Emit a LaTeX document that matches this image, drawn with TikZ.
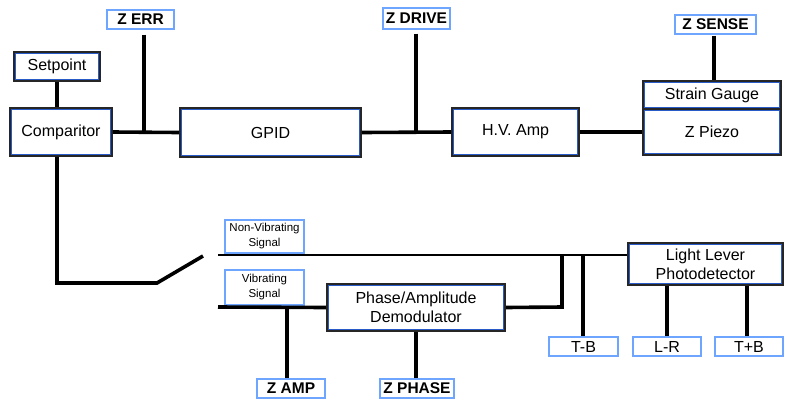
\documentclass[tikz,border=0pt]{standalone}
\usepackage{fontspec}
\setmainfont{Liberation Sans}
\definecolor{blkblue}{RGB}{40,90,200}
\definecolor{lblblue}{RGB}{110,165,255}
\tikzset{
  blk/.style={draw=black!85, line width=1.8pt, fill=white, inner sep=0pt, align=center,
    font=\fontsize{16}{19}\selectfont,
    path picture={\draw[blkblue, line width=4.4pt] (path picture bounding box.south west) rectangle (path picture bounding box.north east);}},
  lbl/.style={draw=lblblue, line width=1.3pt, fill=white, inner sep=0pt, align=center,
    minimum height=19pt, font=\fontsize{15.5}{18}\selectfont\bfseries},
  lbr/.style={lbl, font=\fontsize{16}{18}\selectfont},
  sig/.style={draw=lblblue, line width=1.3pt, fill=white, inner sep=0pt, align=center,
    font=\fontsize{11.5}{15}\selectfont},
  wire/.style={line width=3.6pt, black},
  thinwire/.style={line width=2.6pt, black}
}
\begin{document}
\begin{tikzpicture}[x=1pt,y=-1pt]
\useasboundingbox (0,0) rectangle (790,400);
% blocks
\node[blk, minimum width=86pt, minimum height=29pt] (set) at (57,66.5) {Setpoint};
\node[blk, minimum width=102pt, minimum height=48pt] (comp) at (61,132) {Comparitor};
\node[blk, minimum width=181pt, minimum height=49pt] (gpid) at (270.5,132.5) {GPID};
\node[blk, minimum width=127pt, minimum height=48pt] (hv) at (515.5,132) {H.V. Amp};
\node[blk, minimum width=138pt, minimum height=28pt] (strain) at (712,95) {Strain Gauge};
\node[blk, minimum width=138pt, minimum height=46pt] (piezo) at (712,132) {Z Piezo};
\node[blk, minimum width=178pt, minimum height=47pt] (demod) at (416,307.5) {Phase/Amplitude\\Demodulator};
\node[blk, minimum width=155pt, minimum height=42pt] (light) at (705.5,264) {Light Lever\\Photodetector};
% labels
\node[lbl, minimum width=67pt] (zerr) at (140.5,19.5) {Z ERR};
\node[lbl, minimum width=67pt, minimum height=21pt] (zdrive) at (416.5,18.5) {Z DRIVE};
\node[lbl, minimum width=81pt] (zsense) at (715.5,24.5) {Z SENSE};
\node[lbl, minimum width=68pt] (zamp) at (291,388.5) {Z AMP};
\node[lbl, minimum width=74pt] (zphase) at (417,388.5) {Z PHASE};
\node[lbr, minimum width=69pt] (tb) at (583.5,346.5) {T-B};
\node[lbr, minimum width=68pt] (lr) at (667,346.5) {L-R};
\node[lbr, minimum width=68pt] (tpb) at (749,346.5) {T+B};
\node[sig, minimum width=79pt, minimum height=33pt] (nonvib) at (264.5,236.5) {Non-Vibrating\\Signal};
\node[sig, minimum width=79pt, minimum height=35pt] (vib) at (264.5,287.5) {Vibrating\\Signal};
% junction coordinates
\coordinate (jerr) at (144,132);
\coordinate (jdrive) at (416,132);
\coordinate (sw1) at (57,283);
\coordinate (sw2) at (157,283);
\coordinate (sw3) at (203,256);
\coordinate (nvstart) at (218,255);
\coordinate (vstart) at (218,307);
\coordinate (jdem) at (562,307);
\coordinate (jtop) at (562,255);
\coordinate (jtb) at (583,255);
\coordinate (jamp) at (287,307);
% wires
\draw[wire] (set.south) -- (set.south |- comp.north);
\draw[wire] (comp.east) -- (gpid.west);
\draw[wire] (gpid.east) -- (hv.west);
\draw[wire] (hv.east) -- (piezo.west);
\draw[wire, shorten <=5pt] (zerr.south -| jerr) -- (jerr);
\draw[wire, shorten <=4pt] (zdrive.south -| jdrive) -- (jdrive);
\draw[wire, shorten <=1pt] (zsense.south -| 714,0) -- (714,0 |- strain.north);
\draw[wire] (comp.south -| sw1) -- (sw1) -- (sw2) -- (sw3);
\draw[thinwire] (nvstart) -- (nvstart -| light.west);
\draw[wire] (vstart) -- (demod.west);
\draw[wire] (demod.east) -- (jdem) -- (jtop);
\draw[wire] (jtb) -- (jtb |- tb.north);
\draw[wire] (jamp) -- (jamp |- zamp.north);
\draw[wire] (demod.south -| 416,0) -- (416,0 |- zphase.north);
\draw[wire] (light.south -| lr) -- (lr.north);
\draw[wire] (light.south -| 747,0) -- (747,0 |- tpb.north);
\end{tikzpicture}
\end{document}
